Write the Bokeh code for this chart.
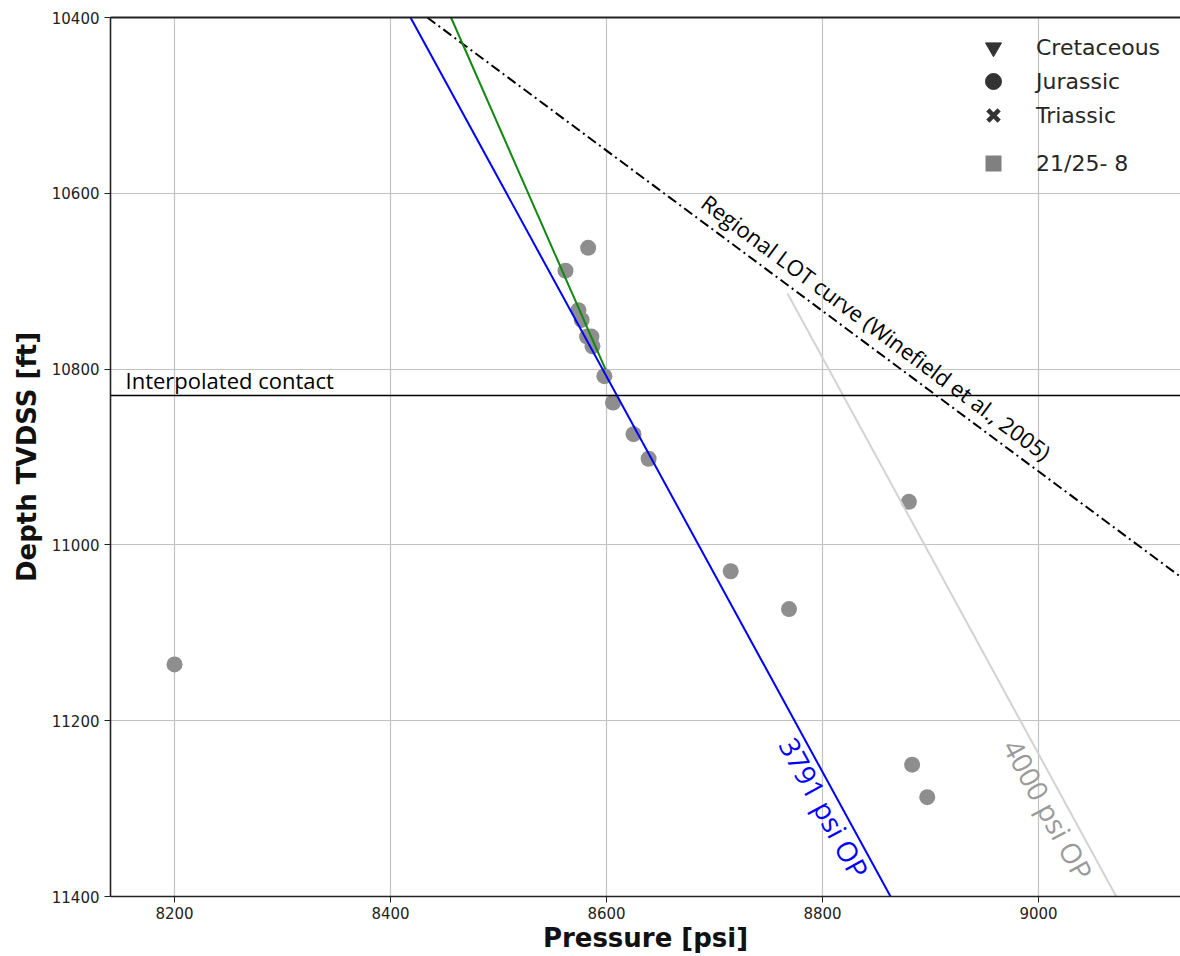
from bokeh.plotting import figure
from bokeh.models import (Range1d, Span, Legend, LegendItem, LinearAxis,
                          FixedTicker, Label)
from bokeh.embed import file_html
from bokeh.resources import INLINE

# ---------------- data ----------------
pressure = [8583, 8562, 8574, 8577, 8582, 8586, 8587, 8598, 8606, 8625,
            8639, 8715, 8769, 8880, 8200, 8883, 8897]
depth = [10662, 10688, 10733, 10744, 10763, 10763, 10774, 10808, 10838, 10874,
         10902, 11030, 11073, 10951, 11136, 11250, 11287]

op3791_p = [8418.5, 8863]
op3791_d = [10400, 11400]
op4000_p = [8767.6, 9072]
op4000_d = [10714, 11400]
trend_p = [8456, 8599]
trend_d = [10400, 10800]
lot_p = [8434, 9140]
lot_d = [10400, 11044]
contact_depth = 10830

x_ticks = [8200, 8400, 8600, 8800, 9000]
y_ticks = [10400, 10600, 10800, 11000, 11200, 11400]
legend_labels = ["Cretaceous", "Jurassic", "Triassic", "21/25- 8"]

# ---------------- figure ----------------
p = figure(width=1180, height=956,
           x_range=Range1d(8140.7, 9131.5), y_range=Range1d(11400, 10400),
           output_backend="svg", toolbar_location=None,
           min_border_left=110, min_border_right=0,
           min_border_top=17, min_border_bottom=60)
p.outline_line_color = None
p.background_fill_color = "white"

xa = p.below[0]
ya = p.left[0]
for ax in (xa, ya):
    ax.major_label_text_font = "DejaVu Sans"
    ax.major_label_text_font_size = "15px"
    ax.major_label_text_color = "#222222"
    ax.axis_label_text_font = "DejaVu Sans"
    ax.axis_label_text_font_style = "bold"
    ax.axis_label_text_font_size = "26px"
    ax.axis_label_text_color = "#111111"
    ax.axis_line_color = "#222222"
    ax.axis_line_width = 1.6
    ax.major_tick_line_color = "#222222"
    ax.major_tick_out = 6
    ax.major_tick_in = 0
    ax.minor_tick_line_color = None
    ax.major_label_standoff = 5
xa.ticker = FixedTicker(ticks=x_ticks)
ya.ticker = FixedTicker(ticks=y_ticks)
xa.axis_label = "Pressure [psi]"
ya.axis_label = "Depth TVDSS [ft]"
xa.major_label_standoff = 4
xa.axis_label_standoff = 1
ya.axis_label_standoff = 7

top_axis = LinearAxis(ticker=FixedTicker(ticks=[]), major_label_text_font_size="0px",
                      major_tick_line_color=None, minor_tick_line_color=None,
                      axis_line_color="#222222", axis_line_width=2)
p.add_layout(top_axis, "above")

p.xgrid.ticker = FixedTicker(ticks=x_ticks)
p.ygrid.ticker = FixedTicker(ticks=y_ticks)
p.grid.grid_line_color = "#c2c2c2"
p.grid.grid_line_width = 1.2

# ---------------- marks ----------------
p.scatter(pressure, depth, size=16, marker="circle",
          fill_color="#8e8e8e", line_color=None)

p.line(lot_p, lot_d, line_color="black", line_width=2, line_dash="10 4 2 4")
p.line(op4000_p, op4000_d, line_color="#d3d3d3", line_width=2)
p.line(op3791_p, op3791_d, line_color="#0000ff", line_width=2)
p.line(trend_p, trend_d, line_color="#118811", line_width=2)

p.add_layout(Span(location=contact_depth, dimension="width",
                  line_color="black", line_width=1.5))

# ---------------- annotations ----------------
ann_font = "Open Sans"
p.add_layout(Label(x=8154.6, y=10812, text="Interpolated contact",
                   text_align="left", text_baseline="alphabetic",
                   text_font=ann_font, text_font_size="22px", text_color="black"))
p.add_layout(Label(x=8850, y=10752, text="Regional LOT curve (Winefield et al., 2005)",
                   angle=-36.6, angle_units="deg",
                   text_align="center", text_baseline="middle",
                   text_font=ann_font, text_font_size="22px", text_color="black"))
p.add_layout(Label(x=8801.8, y=11299, text="3791 psi OP",
                   angle=-61.4, angle_units="deg",
                   text_align="center", text_baseline="middle",
                   text_font=ann_font, text_font_size="28px", text_color="#0000ff"))
p.add_layout(Label(x=9009.2, y=11301, text="4000 psi OP",
                   angle=-61.4, angle_units="deg",
                   text_align="center", text_baseline="middle",
                   text_font=ann_font, text_font_size="28px", text_color="#9a9a9a"))

# ---------------- legend ----------------
nan = float("nan")
r_cret = p.scatter([nan], [nan], marker="inverted_triangle", fill_color="#333333", line_color="#333333")
r_jur = p.scatter([nan], [nan], marker="circle", fill_color="#333333", line_color="#333333")
r_tri = p.scatter([nan], [nan], marker="x", line_color="#333333", line_width=4.5)
r_well = p.scatter([nan], [nan], marker="square", fill_color="#808080", line_color=None)

common = dict(glyph_width=40, glyph_height=40, padding=0, margin=0,
              label_standoff=23, label_text_font="DejaVu Sans",
              label_text_font_size="22px", label_text_color="#262626",
              border_line_color=None, background_fill_alpha=0)
legend_bottoms = [829, 795, 761, 713]
for lab, rend, yb in zip(legend_labels, [r_cret, r_jur, r_tri, r_well], legend_bottoms):
    p.add_layout(Legend(items=[LegendItem(label=lab, renderers=[rend])],
                        location=(863, yb), **common))

open("out.html", "w").write(file_html(p, INLINE))
